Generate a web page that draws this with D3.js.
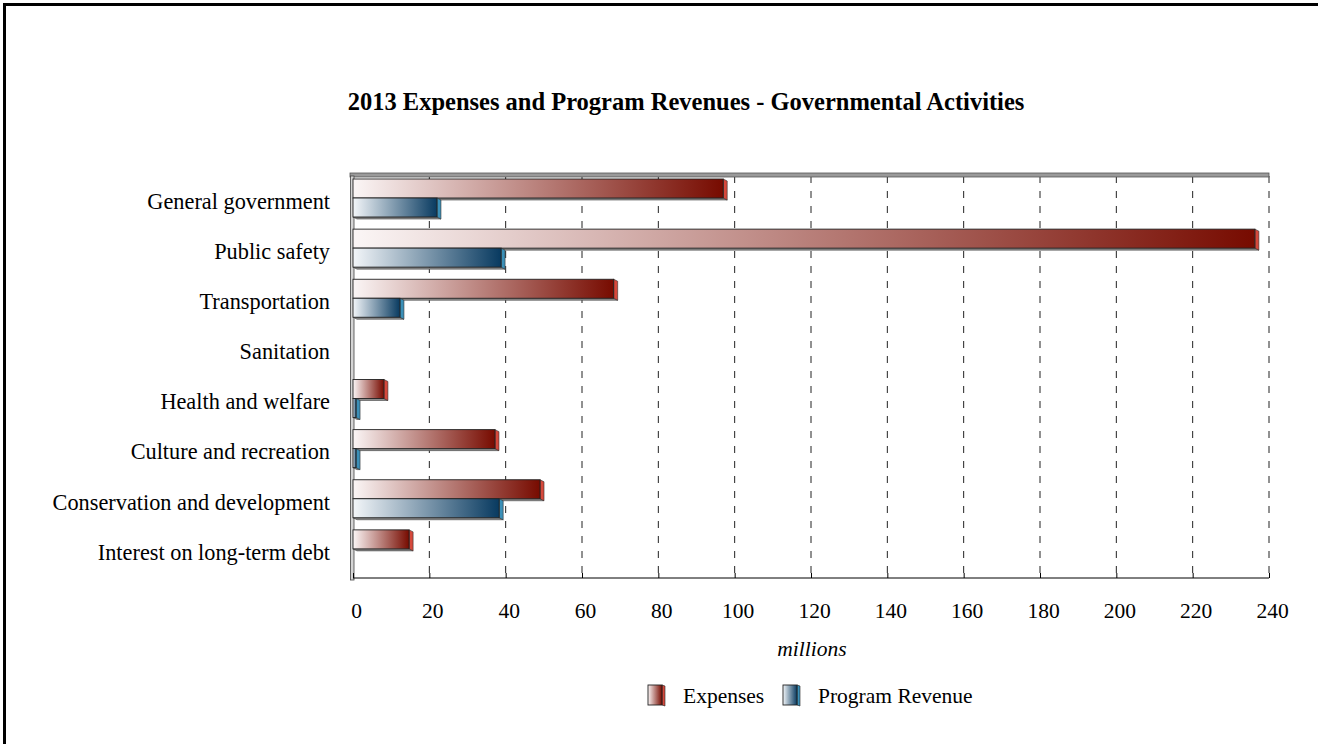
<!DOCTYPE html>
<html><head><meta charset="utf-8">
<script src="https://cdn.jsdelivr.net/npm/d3@7"></script>
<style>body{margin:0;background:#fff}svg{display:block}text{font-family:"Liberation Serif","Times New Roman",serif;fill:#000}</style>
</head><body><svg id="c" width="1320" height="744"></svg>
<script>
const categories = ["General government","Public safety","Transportation","Sanitation","Health and welfare","Culture and recreation","Conservation and development","Interest on long-term debt"];
const expenses = [97, 236.3, 68.3, 0, 8.1, 37.2, 49, 14.7];
const revenue = [22, 38.8, 12.3, 0, 0.8, 0.8, 38.3, 0];
const seriesNames = ["Expenses","Program Revenue"];
const xTicks = [0,20,40,60,80,100,120,140,160,180,200,220,240];

(function(){
const svg = d3.select("#c");
const defs = svg.append("defs");
function grad(id, c0, c1){
  const g = defs.append("linearGradient").attr("id", id).attr("x1","0").attr("x2","1").attr("y1","0").attr("y2","0");
  g.append("stop").attr("offset","0").attr("stop-color",c0);
  g.append("stop").attr("offset","1").attr("stop-color",c1);
}
grad("gRed","#fbf6f6","#770b00");
grad("gBlue","#f3f6f9","#083a60");
const fills = ["url(#gRed)","url(#gBlue)"];
const sideFills = ["#d6493c","#3b90b8"];

// outer frame
svg.append("path").attr("d","M4.5,744 V4.5 H1318").attr("fill","none").attr("stroke","#000").attr("stroke-width",3);

const x = d3.scaleLinear().domain([0,240]).range([353,1269]);
const y = d3.scaleBand().domain(categories).range([177,578]).paddingInner(0).paddingOuter(0);
const sub = d3.scaleBand().domain([0,1]).range([2,40]);
const dx = 4, dy = 2;
const plotTop = 176, plotBottom = 578;

// gridlines (dashed)
svg.append("g").selectAll("line").data(xTicks.slice(1)).join("line")
  .attr("x1", d=>x(d)).attr("x2", d=>x(d)).attr("y1", plotTop).attr("y2", plotBottom)
  .attr("stroke","#222").attr("stroke-width",1).attr("stroke-dasharray","7,8");

// top wall
svg.append("rect").attr("x",350).attr("y",173).attr("width",x(240)-350).attr("height",4)
  .attr("fill","#9a9a9a").attr("stroke","#555").attr("stroke-width",0.8);
// left wall
svg.append("rect").attr("x",350.5).attr("y",176).attr("width",3.5).attr("height",plotBottom-176+2)
  .attr("fill","#d4d4d4").attr("stroke","#444").attr("stroke-width",0.8);

// bottom axis
const axis = d3.axisBottom(x).tickValues(xTicks).tickSize(-5).tickPadding(25).tickFormat(d3.format("d"));
const ax = svg.append("g").attr("transform",`translate(0,${plotBottom})`).call(axis);
ax.select(".domain").attr("stroke","#000").attr("d",`M${x(0)},0H${x(240)}`);
ax.selectAll(".tick line").attr("stroke","#000");
ax.selectAll(".tick text").attr("font-size",21.5).attr("font-family","Liberation Serif").attr("fill","#000").attr("dx",3);

// bars
const data = [];
categories.forEach((c,i)=>{ data.push({c, s:0, v:expenses[i]}); data.push({c, s:1, v:revenue[i]}); });
const bars = svg.append("g").selectAll("g").data(data).join("g");
bars.each(function(d){
  const g = d3.select(this);
  const x0 = x(0), x1 = x(d.v);
  const y0 = y(d.c) + sub(d.s), h = sub.bandwidth(), y1 = y0 + h;
  if (d.v <= 0) return;
  g.append("path").attr("d",`M${x0},${y1}L${x1},${y1}L${x1+dx},${y1+dy}L${x0+dx},${y1+dy}Z`)
    .attr("fill","#8c8c8c").attr("stroke","#444").attr("stroke-width",0.6);
  g.append("path").attr("d",`M${x1},${y0}L${x1+dx},${y0+dy}L${x1+dx},${y1+dy}L${x1},${y1}Z`)
    .attr("fill", sideFills[d.s]).attr("stroke","#333").attr("stroke-width",0.6);
  g.append("rect").attr("x",x0).attr("y",y0).attr("width",x1-x0).attr("height",h)
    .attr("fill",fills[d.s]).attr("stroke","#222").attr("stroke-width",0.9);
});

// category labels
svg.append("g").selectAll("text").data(categories).join("text")
  .attr("x",330).attr("y",d=>y(d)+y.bandwidth()/2-1).attr("dy","0.35em").attr("text-anchor","end")
  .attr("font-size",22.3).text(d=>d);

// title
svg.append("text").attr("x",686).attr("y",110).attr("text-anchor","middle").attr("font-size",24.5).attr("font-weight","bold")
  .text("2013 Expenses and Program Revenues - Governmental Activities");
// axis title
svg.append("text").attr("x",812).attr("y",656).attr("text-anchor","middle").attr("font-size",21.5).attr("font-style","italic").text("millions");

// legend
const legX = [648, 783];
const lg = svg.append("g").selectAll("g").data(seriesNames).join("g");
lg.each(function(d,i){
  const g = d3.select(this);
  const lx = legX[i], ly = 685, w = 14, h = 20;
  g.append("path").attr("d",`M${lx+w},${ly}L${lx+w+3},${ly+1}L${lx+w+3},${ly+h+1}L${lx+w},${ly+h}Z`).attr("fill",sideFills[i]).attr("stroke","#222").attr("stroke-width",0.6);
  g.append("rect").attr("x",lx).attr("y",ly).attr("width",w).attr("height",h).attr("fill",fills[i]).attr("stroke","#222").attr("stroke-width",0.9);
  g.append("text").attr("x",lx+35).attr("y",ly+h/2).attr("dy","0.35em").attr("font-size",21.5).text(d);
});
})();
</script></body></html>
